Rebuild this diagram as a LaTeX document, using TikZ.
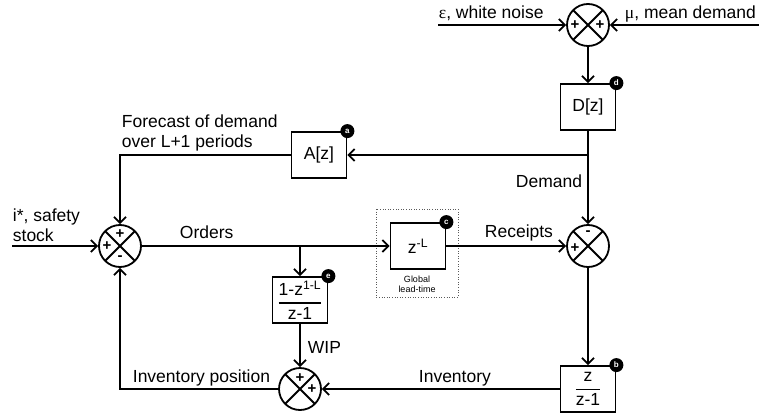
\documentclass[tikz,border=0pt]{standalone}
\usepackage{amsmath}
\usepackage{fontspec}
\setmainfont{Liberation Sans}
\newfontfamily\greekf{Liberation Serif}
\usetikzlibrary{arrows.meta,calc}
\begin{document}
\begin{tikzpicture}[x=1pt,y=-1pt,line width=1.8pt,
  >={Straight Barb[length=6pt,width=12pt]},
  blk/.style={draw,minimum width=55pt,minimum height=46pt,inner sep=0pt,font=\fontsize{17.5}{19}\selectfont},
  sum/.style={circle,draw,minimum size=42pt,inner sep=0pt,
    path picture={\draw[line width=1.8pt] (path picture bounding box.north west)--(path picture bounding box.south east)
      (path picture bounding box.north east)--(path picture bounding box.south west);}},
  badge/.style={circle,fill=black,minimum size=14pt,inner sep=0pt,text=white,font=\fontsize{8}{8}\selectfont\bfseries},
  lbl/.style={font=\fontsize{17.5}{19}\selectfont,inner sep=0pt,anchor=base west},
  sgn/.style={font=\fontsize{15}{15}\selectfont\bfseries,inner sep=0pt},
  small/.style={font=\fontsize{9}{10}\selectfont,inner sep=0pt,align=center}]
\useasboundingbox (0,0) rectangle (759,417);

% summers
\node[sum] (sT) at (588,25) {};
\node[sum] (sL) at (120,246) {};
\node[sum] (sR) at (588,246) {};
\node[sum] (sB) at (300,389) {};

% blocks
\node[blk] (D) at (588,107) {D[z]};
\node[blk] (A) at (319,155) {A[z]};
\node[blk] (Z) at (418,246) {z\textsuperscript{-L}};
\node[blk] (E) at (300,300) {$\displaystyle\genfrac{}{}{1.2pt}{0}{\mbox{1-z\textsuperscript{1-L}}}{\mbox{z-1}}$};
\node[blk] (B) at (588,389) {$\displaystyle\genfrac{}{}{1.2pt}{0}{\mbox{z}}{\mbox{z-1}}$};

% badges
\node[badge] at (A.north east) {a};
\node[badge] at (B.north east) {b};
\node[badge] at (Z.north east) {c};
\node[badge] at (D.north east) {d};
\node[badge] at (E.north east) {e};

% dotted group
\draw[line width=0.6pt,dotted,gray!70!black] (376,209) rectangle (458,297);
\node[small] (gl) at (417,284) {Global\\lead-time};

% signs
\node[sgn] at ($(sT)+(-13,0)$) {+};
\node[sgn] at ($(sT)+(12,0)$) {+};
\node[sgn] at ($(sL)+(0,-12)$) {+};
\node[sgn] at ($(sL)+(-13,0)$) {+};
\node[sgn] at ($(sL)+(0,12)$) {-};
\node[sgn] at ($(sR)+(0,-13)$) {-};
\node[sgn] at ($(sR)+(-13,2)$) {+};
\node[sgn] at ($(sB)+(0,-11)$) {+};
\node[sgn] at ($(sB)+(12,0)$) {+};

% free ends
\coordinate (eps) at (438,25);
\coordinate (mu) at (759,25);
\coordinate (istar) at (12,246);

% connectors
\draw[->] (eps) -- (sT.west);
\draw[->] (mu) -- (sT.east);
\draw[->] (sT.south) -- (D.north);
\draw[->] (D.south) -- (sR.north);
\draw[->] (A.east -| D.south) -- (A.east);
\draw[->] (A.west) -| (sL.north);
\draw[->] (istar) -- (sL.west);
\draw[->] (sL.east) -- (Z.west);
\draw[->] (E.north |- sL.east) -- (E.north);
\draw[->] (Z.east) -- (sR.west);
\draw[->] (sR.south) -- (B.north);
\draw[->] (B.west) -- (sB.east);
\draw[->] (E.south) -- (sB.north);
\draw[->] (sB.west) -| (sL.south);

% labels
\node[lbl] at (438,19) {{\greekf ε}, white noise};
\node[lbl] at (624,19) {{\greekf μ}, mean demand};
\node[lbl] at (121,128) {Forecast of demand};
\node[lbl] at (121,147) {over L+1 periods};
\node[lbl,anchor=base east] at (583,187) {Demand};
\node[lbl] at (12,221) {i*, safety};
\node[lbl] at (12,241) {stock};
\node[lbl] at (179,238) {Orders};
\node[lbl] at (484,237) {Receipts};
\node[lbl] at (307,353) {WIP};
\node[lbl] at (132,382) {Inventory position};
\node[lbl] at (418,382) {Inventory};
\end{tikzpicture}
\end{document}
